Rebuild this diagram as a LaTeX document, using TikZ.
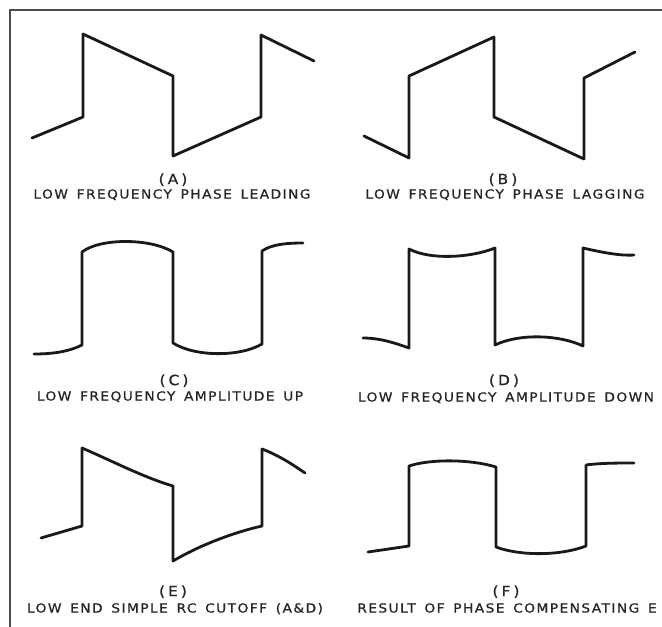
\documentclass[tikz,border=0pt]{standalone}
\usepackage{fontspec}
\usepackage{tikz}
\usetikzlibrary{positioning}
\newfontfamily\capfont[FakeStretch=1.1,LetterSpace=11.5,WordSpace=1.5,FakeBold=1]{DejaVu Sans}
\newfontfamily\tagfont[FakeStretch=1.1,LetterSpace=22,FakeBold=1]{DejaVu Sans}

\begin{document}
\begin{tikzpicture}[
    x=1pt, y=-1pt,
    wave/.style={line width=2.8pt, line join=round, line cap=round, black!90},
    frame/.style={line width=1.5pt, black!70},
    tag/.style={font=\tagfont\fontsize{14}{14}\selectfont, inner sep=0pt,
        text height=10.2pt, text depth=0pt, black!85},
    caption/.style={font=\capfont\fontsize{12.5}{12.5}\selectfont, inner sep=0pt,
        text height=9.1pt, text depth=0pt, black!85}
]
\useasboundingbox (0,0) rectangle (662,627);
\draw[frame] (662,10) -- (10,10) -- (10,627);

% (A) and (B)
\draw[wave] (32,138) -- (83,117) -- (83,34) -- (173,76) -- (173,156) -- (261,117) -- (261,35) -- (314,61);
\draw[wave] (364,136) -- (409,158) -- (409,76) -- (494,37) -- (494,117) -- (584,159) -- (584,78) -- (635,52);
\node[tag] (tA) at (173,179) {(A)};
\node[caption] (cA) at (172,194) {LOW FREQUENCY PHASE LEADING};
\node[tag] (tB) at (503,179) {(B)};
\node[caption] (cB) at (505,194) {LOW FREQUENCY PHASE LAGGING};

% (C) and (D)
\draw[wave] (34,354) .. controls (55,354) and (70,351) .. (82,345) -- (82,252)
    .. controls (100,238) and (150,238) .. (173,252) -- (173,343)
    .. controls (195,357) and (240,357) .. (262,344) -- (262,251)
    .. controls (272,244) and (288,243) .. (303,243);
\draw[wave] (363,338) .. controls (380,338) and (395,343) .. (409,348) -- (409,249)
    .. controls (430,260) and (470,258) .. (495,248) -- (495,345)
    .. controls (520,333) and (560,335) .. (583,346) -- (583,248)
    .. controls (600,252) and (620,256) .. (634,255);
\node[tag] (tC) at (174,380) {(C)};
\node[caption] (cC) at (170,396) {LOW FREQUENCY AMPLITUDE UP};
\node[tag] (tD) at (504,380) {(D)};
\node[caption] (cD) at (506,397) {LOW FREQUENCY AMPLITUDE DOWN};

% (E) and (F)
\draw[wave] (41,538) -- (82,526) -- (82,448)
    .. controls (110,460) and (145,478) .. (173,486) -- (173,561)
    .. controls (200,545) and (235,532) .. (262,526) -- (262,449)
    .. controls (278,455) and (292,464) .. (305,473);
\draw[wave] (368,552) -- (409,546) -- (409,466)
    .. controls (430,459) and (470,459) .. (496,467) -- (496,547)
    .. controls (520,556) and (560,556) .. (586,546) -- (586,465)
    .. controls (600,463) and (620,463) .. (634,463);
\node[tag] (tE) at (173,591) {(E)};
\node[caption] (cE) at (175,608) {LOW END SIMPLE RC CUTOFF (A\&D)};
\node[tag] (tF) at (506,591) {(F)};
\node[caption] (cF) at (507,608) {RESULT OF PHASE COMPENSATING E};
\end{tikzpicture}
\end{document}
